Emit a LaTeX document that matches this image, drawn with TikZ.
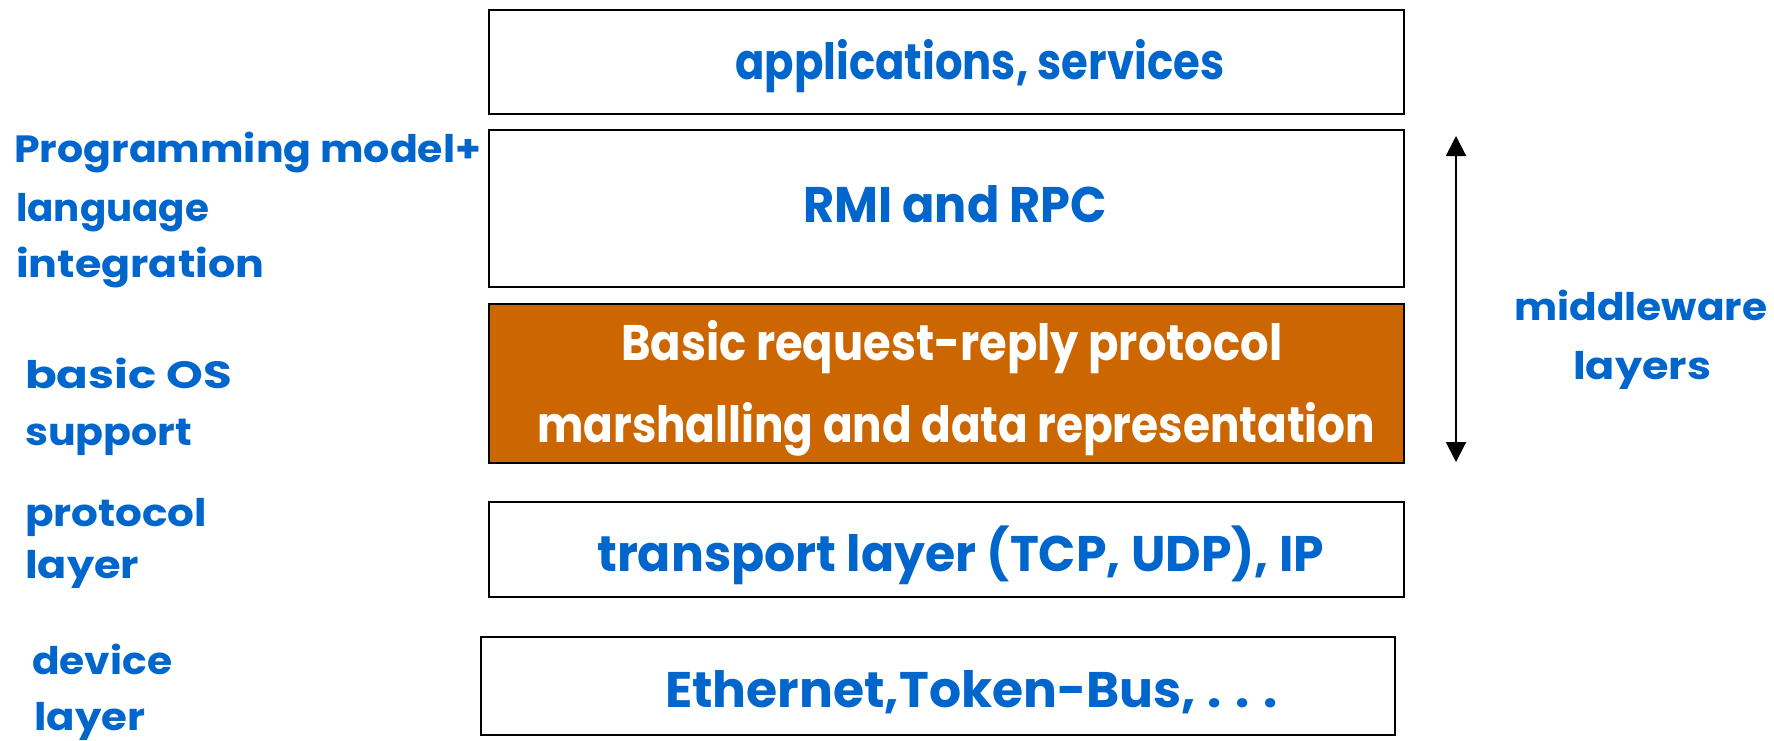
\documentclass[tikz,border=0pt]{standalone}
\usepackage{fontspec}
\setmainfont{Poppins}
\usetikzlibrary{arrows.meta}
\definecolor{layerblue}{HTML}{0066CC}
\definecolor{mwfill}{HTML}{CC6600}
% set a text to an exact width, keeping its height
\newcommand\fitw[2]{\resizebox{#1pt}{\height}{#2}}
\tikzset{
  layerbox/.style={draw=black, line width=2pt, fill=white, anchor=north west, inner sep=0pt},
  boxtext/.style={anchor=base west, inner sep=0pt, text=layerblue, font=\fontsize{50}{60}\selectfont\bfseries},
  sidetext/.style={anchor=base west, inner sep=0pt, text=layerblue, font=\fontsize{38}{46}\selectfont\bfseries},
}
\begin{document}
\begin{tikzpicture}[x=1pt,y=-1pt]
\useasboundingbox (0,0) rectangle (1774,740);

% protocol stack
\node[layerbox, minimum width=915pt, minimum height=104pt] (app) at (488,9) {};
\node[layerbox, minimum width=915pt, minimum height=157pt] (rmi) at (488,129) {};
\node[layerbox, fill=mwfill, minimum width=915pt, minimum height=159pt] (rr) at (488,303) {};
\node[layerbox, minimum width=915pt, minimum height=95pt] (tp) at (488,501) {};
\node[layerbox, minimum width=914pt, minimum height=98pt] (dev) at (480,636) {};

% layer contents
\node[boxtext] (appT) at (735,79) {\fitw{489}{applications, services}};
\node[boxtext] (rmiT) at (803,222) {\fitw{304}{RMI and RPC}};
\node[boxtext, text=white] (rrT1) at (621,360) {\fitw{661}{Basic request-reply protocol}};
\node[boxtext, text=white] (rrT2) at (537,442) {\fitw{838}{marshalling and data representation}};
\node[boxtext] (tpT) at (597,571) {\fitw{727}{transport layer (TCP, UDP), IP}};
\node[boxtext] (devT) at (665,707) {\fitw{613}{Ethernet,Token-Bus, . . .}};

% labels on the left
\node[sidetext] (pm1) at (14,162) {\fitw{467}{Programming model+}};
\node[sidetext] (pm2) at (16,221) {\fitw{193}{language}};
\node[sidetext] (pm3) at (16,277) {\fitw{248}{integration}};
\node[sidetext] (os1) at (25,388) {\fitw{207}{basic OS}};
\node[sidetext] (os2) at (25,445) {\fitw{167}{support}};
\node[sidetext] (pl1) at (25,526) {\fitw{182}{protocol}};
\node[sidetext] (pl2) at (25,578) {\fitw{114}{layer}};
\node[sidetext] (dl1) at (32,674) {\fitw{140}{device}};
\node[sidetext] (dl2) at (34,730) {\fitw{111}{layer}};

% middleware span
\coordinate (mwtop) at (1456,136);
\coordinate (mwbot) at (1456,462);
\draw[line width=2pt, {Triangle[length=20pt,width=20pt]}-{Triangle[length=20pt,width=20pt]}] (mwtop) -- (mwbot);
\node[sidetext] (mw1) at (1514,320) {\fitw{253}{middleware}};
\node[sidetext] (mw2) at (1573,379) {\fitw{138}{layers}};
\end{tikzpicture}
\end{document}
